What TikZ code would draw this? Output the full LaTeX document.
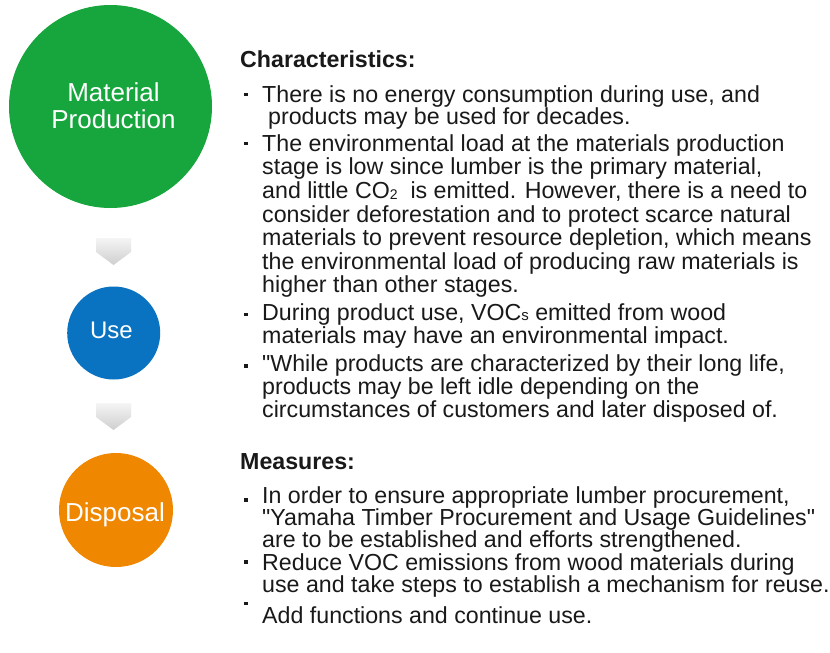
\documentclass[tikz,border=0pt]{standalone}
\usepackage{fontspec}
\setmainfont{Liberation Sans}
\definecolor{mpgreen}{RGB}{23,166,61}
\definecolor{useblue}{RGB}{9,114,193}
\definecolor{disorange}{RGB}{239,135,0}
\definecolor{txtcol}{RGB}{25,25,25}
\begin{document}
\begin{tikzpicture}[x=1pt,y=-1pt,
  txt/.style={anchor=base west, inner sep=0pt, text=txtcol, font=\fontsize{23.2}{26}\selectfont},
  hd/.style={txt, font=\fontsize{23.2}{26}\selectfont\bfseries},
  bul/.style={rectangle, fill=txtcol, minimum size=3.5pt, inner sep=0pt},
  stage/.style={circle, inner sep=0pt, draw=none},
  slabel/.style={anchor=base, inner sep=0pt, text=white, font=\fontsize{26}{30}\selectfont},
  chev/.style={top color=gray!8, bottom color=gray!38}
]
\useasboundingbox (0,0) rectangle (830,653);
\fill[white] (0,0) rectangle (830,653);

% stage circles
\node[stage, fill=mpgreen, minimum size=203pt] (mp) at (110.5,106.5) {};
\node[slabel] (mpa) at (113.5,101.7) {Material};
\node[slabel] (mpb) at (113.5,128) {Production};

\node[stage, fill=useblue, minimum size=93pt] (use) at (113.7,333) {};
\node[slabel, font=\fontsize{24}{28}\selectfont] (usel) at (111.5,338.3) {Use};

\node[stage, fill=disorange, minimum size=114pt] (dis) at (116,510) {};
\node[slabel] (disl) at (115,521.7) {Disposal};

% chevrons
\shade[chev] (96,238) -- (131,238) -- (131,252) -- (113.5,265) -- (96,252) -- cycle;
\shade[chev] (96,403) -- (131,403) -- (131,417) -- (113.5,430) -- (96,417) -- cycle;

% Characteristics
\node[hd] (ch) at (240,67) {Characteristics:};
\node[bul] (b1) at (246,94.5) {};
\node[txt] (c1) at (262,102) {There is no energy consumption during use, and};
\node[txt] (c2) at (268,124) {products may be used for decades.};
\node[bul] (b2) at (246,143.5) {};
\node[txt] (c3) at (262,151) {The environmental load at the materials production};
\node[txt] (c4) at (262,174) {stage is low since lumber is the primary material,};
\node[txt] (c5) at (262,198) {and little CO\raisebox{-1pt}{\fontsize{14}{14}\selectfont 2}\ \ is emitted. However, there is a need to};
\node[txt] (c6) at (262,222) {consider deforestation and to protect scarce natural};
\node[txt] (c7) at (262,245) {materials to prevent resource depletion, which means};
\node[txt] (c8) at (262,269) {the environmental load of producing raw materials is};
\node[txt] (c9) at (262,292) {higher than other stages.};
\node[bul] (b3) at (246,314.5) {};
\node[txt] (c10) at (262,320) {During product use, VOC{\fontsize{15}{15}\selectfont s} emitted from wood};
\node[txt] (c11) at (262,343) {materials may have an environmental impact.};
\node[bul] (b4) at (246,366) {};
\node[txt] (c12) at (262,371) {\textquotedbl While products are characterized by their long life,};
\node[txt] (c13) at (262,394) {products may be left idle depending on the};
\node[txt] (c14) at (262,417) {circumstances of customers and later disposed of.};

% Measures
\node[hd] (me) at (240,469) {Measures:};
\node[bul] (b5) at (246,500) {};
\node[txt] (m1) at (262,503) {In order to ensure appropriate lumber procurement,};
\node[txt] (m2) at (262,525) {\textquotedbl Yamaha Timber Procurement and Usage Guidelines\textquotedbl};
\node[txt] (m3) at (262,547) {are to be established and efforts strengthened.};
\node[bul] (b6) at (246,562) {};
\node[txt] (m4) at (262,570) {Reduce VOC emissions from wood materials during};
\node[txt] (m5) at (262,592) {use and take steps to establish a mechanism for reuse.};
\node[bul] (b7) at (246,603.5) {};
\node[txt] (m6) at (262,623) {Add functions and continue use.};
\end{tikzpicture}
\end{document}
